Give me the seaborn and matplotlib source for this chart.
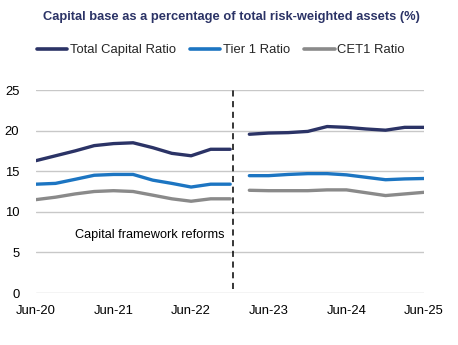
import matplotlib
matplotlib.use('Agg')
import matplotlib.pyplot as plt
from matplotlib.lines import Line2D
import seaborn as sns
import pandas as pd

# quarterly observations, two periods either side of the framework change
dates_pre = pd.date_range('2020-06-30', periods=11, freq='QE-DEC')
dates_post = pd.date_range('2023-03-31', periods=10, freq='QE-DEC')

total_pre = [16.3, 16.9, 17.5, 18.15, 18.4, 18.5, 17.9, 17.2, 16.9, 17.7, 17.7]
tier1_pre = [13.4, 13.5, 14.0, 14.5, 14.6, 14.6, 13.9, 13.5, 13.05, 13.4, 13.4]
cet1_pre = [11.5, 11.8, 12.2, 12.5, 12.6, 12.5, 12.05, 11.6, 11.3, 11.6, 11.6]

total_post = [19.55, 19.7, 19.75, 19.9, 20.5, 20.4, 20.2, 20.05, 20.4, 20.4]
tier1_post = [14.45, 14.45, 14.6, 14.7, 14.7, 14.55, 14.25, 13.95, 14.05, 14.1]
cet1_post = [12.65, 12.6, 12.6, 12.6, 12.7, 12.7, 12.35, 12.0, 12.2, 12.4]

series_names = ['Total Capital Ratio', 'Tier 1 Ratio', 'CET1 Ratio']
colors = {'Total Capital Ratio': '#2B3366',
          'Tier 1 Ratio': '#1C75C2',
          'CET1 Ratio': '#8A8A8A'}

tick_dates = pd.to_datetime(['2020-06-30', '2021-06-30', '2022-06-30',
                             '2023-06-30', '2024-06-30', '2025-06-30'])
tick_labels = ['Jun-20', 'Jun-21', 'Jun-22', 'Jun-23', 'Jun-24', 'Jun-25']
reform_date = pd.Timestamp('2023-01-15')


def build_frame(dates, values, period):
    rows = []
    for name, vals in zip(series_names, values):
        for d, v in zip(dates, vals):
            rows.append({'date': d, 'series': name, 'value': v, 'period': period})
    return pd.DataFrame(rows)


df = pd.concat([
    build_frame(dates_pre, [total_pre, tier1_pre, cet1_pre], 'pre'),
    build_frame(dates_post, [total_post, tier1_post, cet1_post], 'post'),
])

sns.set_style('white')
plt.rcParams['font.family'] = ['Liberation Sans', 'DejaVu Sans']

fig = plt.figure(figsize=(4.58, 3.45), dpi=100)
ax = fig.add_axes([36 / 458, 1 - 293 / 345, (424 - 36) / 458, (293 - 90) / 345])

for period in ['pre', 'post']:
    sns.lineplot(data=df[df['period'] == period], x='date', y='value',
                 hue='series', hue_order=series_names, palette=colors,
                 linewidth=2.4, legend=False, ax=ax)

ax.axvline(reform_date, ymin=0.02, ymax=1.0, color='black',
           linestyle=(0, (4, 3)), linewidth=1.1)
ax.text(reform_date - pd.Timedelta(days=40), 7.1, 'Capital framework reforms',
        ha='right', va='center', fontsize=9.2, color='black')

ax.set_ylim(0, 25)
ax.set_yticks([0, 5, 10, 15, 20, 25])
ax.set_xlim(tick_dates[0], tick_dates[-1])
ax.set_xticks(tick_dates)
ax.set_xticklabels(tick_labels)
ax.tick_params(axis='both', labelsize=9.4, length=0, colors='black')
ax.tick_params(axis='y', pad=12)
ax.tick_params(axis='x', pad=9)
ax.yaxis.grid(True, color='#C8C8C8', linewidth=1.0)
ax.set_axisbelow(True)
ax.set_xlabel('')
ax.set_ylabel('')
for side in ['top', 'right', 'left', 'bottom']:
    ax.spines[side].set_visible(False)

fig.text(0.505, 1 - 17 / 345, 'Capital base as a percentage of total risk-weighted assets (%)',
         ha='center', va='center', fontsize=9.3, fontweight='bold', color='#2B3366')

handles = [Line2D([0], [0], color=colors[n], linewidth=2.6) for n in series_names]
fig.legend(handles, series_names, loc='center', bbox_to_anchor=(221 / 458, 1 - 50 / 345),
           ncol=3, frameon=False, fontsize=9.4, handlelength=2.3,
           handletextpad=0.2, columnspacing=1.1)

fig.savefig('out.png', dpi=100)
